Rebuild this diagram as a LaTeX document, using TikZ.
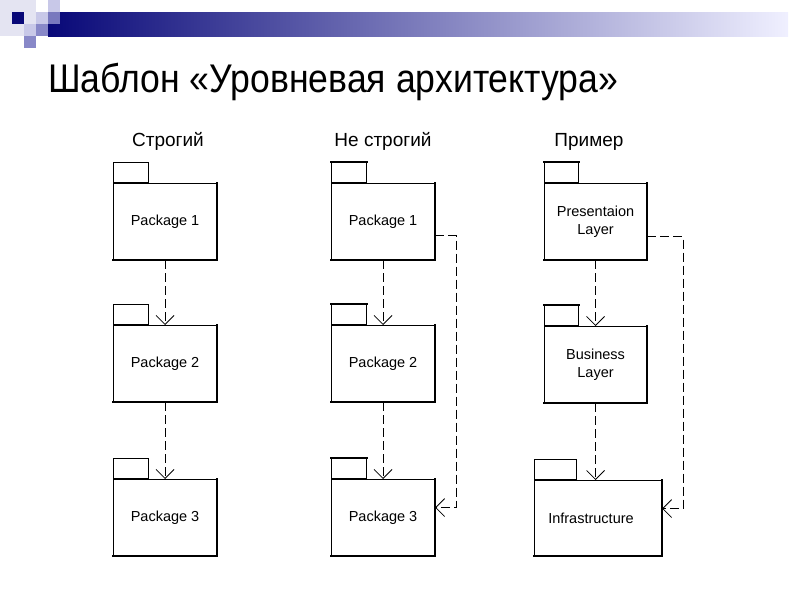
\documentclass[tikz,border=0pt]{standalone}
\usepackage{fontspec}
\setmainfont{Liberation Sans}
\newfontfamily\titlefont[FakeStretch=0.89]{Liberation Sans}
\usetikzlibrary{arrows.meta,calc}
\definecolor{navy}{RGB}{8,8,120}
\definecolor{sqlight}{RGB}{200,200,232}
\definecolor{sqmid}{RGB}{136,136,200}
\definecolor{sqmid2}{RGB}{120,120,190}
\definecolor{sqfaint}{RGB}{228,228,242}
\begin{document}
\begin{tikzpicture}[x=1pt,y=-1pt,
  pkgbody/.style={draw, line width=1.1pt, minimum width=103pt, minimum height=76pt, anchor=north west, inner sep=0pt, align=center, font=\fontsize{14.5}{18}\selectfont},
  pkgtab/.style={draw, line width=1.1pt, minimum width=35pt, minimum height=20pt, anchor=south west, inner sep=0pt},
  edge2/.style={line width=2pt, line cap=rect},
  coltitle/.style={font=\fontsize{19}{22}\selectfont, anchor=base},
  dep/.style={draw, line width=0.8pt, dash pattern=on 9pt off 4pt, -{Straight Barb[length=9pt,width=18pt,line width=0.8pt]}}
]
\useasboundingbox (0,0) rectangle (800,600);
\fill[white] (0,0) rectangle (800,600);
% header decoration
\fill[sqfaint] (0,0) rectangle (36,36);
\shade[left color=navy, right color=white!94!blue] (48,12) rectangle (788,36);
\fill[navy] (12,12) rectangle (24,24);
\fill[sqlight] (24,24) rectangle (36,36);
\fill[sqlight] (36,12) rectangle (48,24);
\fill[sqmid] (36,24) rectangle (48,36);
\fill[sqmid] (24,36) rectangle (36,48);
\fill[sqlight] (48,0) rectangle (60,12);
\fill[sqmid2] (48,12) rectangle (60,24);
% title
\node[anchor=base west, inner sep=0pt, font=\titlefont\fontsize{40}{46}\selectfont] (title) at (48,92) {Шаблон «Уровневая архитектура»};
% column titles
\node[coltitle] (t1) at (168,146) {Строгий};
\node[coltitle] (t2) at (383,146) {Не строгий};
\node[coltitle] (t3) at (589,146) {Пример};
% column 1
\node[pkgbody] (a1) at (113,183) {Package 1};
\node[pkgtab] (a1t) at (a1.north west) {};
\node[pkgbody] (a2) at (113,325) {Package 2};
\node[pkgtab] (a2t) at (a2.north west) {};
\node[pkgbody] (a3) at (113,479) {Package 3};
\node[pkgtab] (a3t) at (a3.north west) {};
\draw[dep] (a1.south) -- (a2.north);
\draw[dep] (a2.south) -- (a3.north);
% column 2
\node[pkgbody] (b1) at (331,183) {Package 1};
\node[pkgtab] (b1t) at (b1.north west) {};
\node[pkgbody] (b2) at (331,325) {Package 2};
\node[pkgtab] (b2t) at (b2.north west) {};
\node[pkgbody] (b3) at (331,479) {Package 3};
\node[pkgtab] (b3t) at (b3.north west) {};
\draw[dep] (b1.south) -- (b2.north);
\draw[dep] (b2.south) -- (b3.north);
\draw[dep] ([yshift=-14pt]b1.east) -- ++(21,0) |- ([yshift=10pt]b3.east);
% column 3
\node[pkgbody, minimum width=102pt] (c1) at (544,183) {Presentaion\\Layer};
\node[pkgtab, minimum width=34pt] (c1t) at (c1.north west) {};
\node[pkgbody, minimum width=102pt] (c2) at (544,326) {Business\\Layer};
\node[pkgtab, minimum width=34pt] (c2t) at (c2.north west) {};
\node[pkgbody, minimum width=127pt, minimum height=75pt] (c3) at (534,480) {};
\node[pkgtab, minimum width=42pt] (c3t) at (c3.north west) {};
\node[font=\fontsize{14.5}{18}\selectfont, inner sep=0pt] (c3l) at (591,518) {Infrastructure};
\draw[dep] (c1.south) -- (c2.north);
\draw[dep] (c2.south) -- (c2.south |- c3.north);
\draw[dep] ([yshift=-15pt]c1.east) -- ++(36,0) |- ([yshift=9.5pt]c3.east);
% heavier right and bottom edges
\foreach \n in {a1,a2,a3,b1,b2,b3,c1,c2,c3}{
  \draw[edge2] (\n.north east) -- (\n.south east) -- (\n.south west);
}
\foreach \n in {b1t,b2t,b3t,c1t,c2t}{
  \draw[edge2] (\n.north west) -- (\n.north east);
}
\end{tikzpicture}
\end{document}
